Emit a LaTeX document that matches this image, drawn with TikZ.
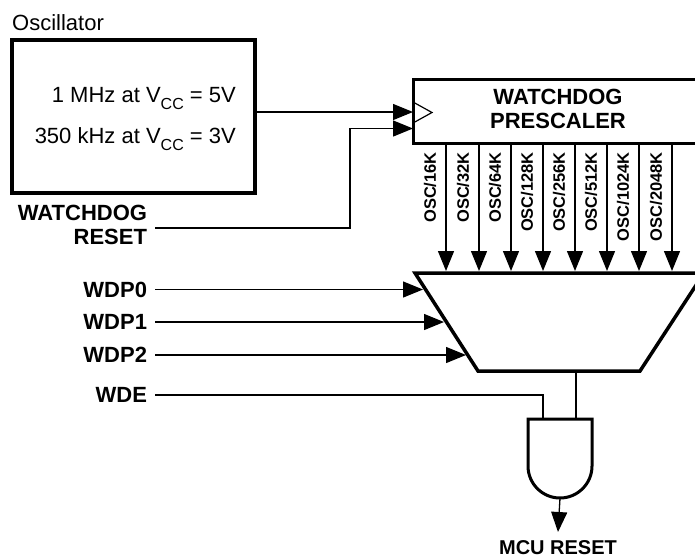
\documentclass[tikz,border=0pt]{standalone}
\usepackage{fontspec}
\setmainfont{Liberation Sans}
\usetikzlibrary{arrows.meta}
\newcommand\vccsub{V\raisebox{-7pt}{\fontsize{16}{16}\selectfont CC}}
\begin{document}
\begin{tikzpicture}[x=1pt,y=-1pt,
  thinl/.style={line width=1.3pt},
  arr/.style={line width=1.3pt,-{Triangle[length=20pt,width=16pt]}},
  reg/.style={font=\fontsize{22}{24}\selectfont, inner sep=0pt},
  lbl/.style={font=\fontsize{22}{24}\selectfont\bfseries, inner sep=0pt, outer xsep=8pt, anchor=east},
  osclbl/.style={font=\fontsize{16.5}{18}\selectfont\bfseries, inner sep=0pt, rotate=90, anchor=east},
  thickbox/.style={draw, line width=3.5pt, inner sep=0pt, outer sep=0pt}]
\useasboundingbox (0,0) rectangle (695,558);
\fill[white] (0,0) rectangle (695,558);
\clip (0,0) rectangle (695,558);

% oscillator
\node[reg, anchor=base west] (osclabel) at (12,30) {Oscillator};
\node[thickbox, minimum width=243pt, minimum height=153pt, anchor=north west] (osc) at (12,40) {};
\node[reg, anchor=base east] (f1) at (236,102) {1 MHz at \vccsub{} = 5V};
\node[reg, anchor=base east] (f2) at (236,143) {350 kHz at \vccsub{} = 3V};

% prescaler
\node[thickbox, line width=3pt, minimum width=300pt, minimum height=64pt, anchor=north west] (pre) at (413,79) {};
\node[font=\fontsize{22}{24}\selectfont\bfseries, inner sep=0pt, align=center, anchor=north] (prelbl) at (558,89) {WATCHDOG\\PRESCALER};
\draw[line width=1.2pt] (413,102) -- (432,112.5) -- (413,123);

% left labels
\node[lbl, align=right] (wdr) at (155,225) {WATCHDOG\\RESET};
\node[lbl] (wdp0) at (155,289.5) {WDP0};
\node[lbl] (wdp1) at (155,322) {WDP1};
\node[lbl] (wdp2) at (155,355) {WDP2};
\node[lbl] (wde) at (155,395) {WDE};

% mux
\coordinate (mtl) at (415,273);
\coordinate (mbl) at (478,371);
\coordinate (mbr) at (640,371);
\coordinate (mtr) at (704,273);
\coordinate (muxout) at (576,371);
\draw[line width=3.5pt, line join=miter] (mtl) -- (mbl) -- (mbr) -- (mtr) -- cycle;
\coordinate (s0) at (423,289.5);
\coordinate (s1) at (444,322);
\coordinate (s2) at (466,355);

% gate
\coordinate (gtl) at (528,419);
\coordinate (gtr) at (592,419);
\coordinate (gin1) at (543,419);
\coordinate (gin2) at (576,419);
\coordinate (gout) at (560,498);
\draw[line width=3pt] (gtl) -- (gtr) -- (592,466) arc[start angle=0, end angle=-180, radius=32pt] -- cycle;

\node[font=\fontsize{20}{20}\selectfont\bfseries, inner sep=0pt, anchor=north] (mcu) at (558,540) {MCU RESET};

% connectors
\draw[arr] (osc.east |- 0,112) -- (pre.west |- 0,112);
\coordinate (jog) at (350,128.5);
\draw[arr] (wdr.east |- 0,228) -| (jog) -- (pre.west |- jog);
\draw[arr] (wdp0.east) -- (s0);
\draw[arr] (wdp1.east) -- (s1);
\draw[arr] (wdp2.east) -- (s2);
\draw[thinl] (wde.east) -| (gin1);
\draw[thinl] (muxout) -- (gin2);
\draw[arr] (gout) -- ([yshift=8pt]mcu.north);

\foreach \x/\t in {446/{OSC/16K},479/{OSC/32K},511/{OSC/64K},543/{OSC/128K},575/{OSC/256K},607/{OSC/512K},639/{OSC/1024K},672/{OSC/2048K}}{
  \draw[arr] (\x,0 |- pre.south) -- (\x,271);
  \node[osclbl] at ({\x-16},152) {\t};
}
\end{tikzpicture}
\end{document}
